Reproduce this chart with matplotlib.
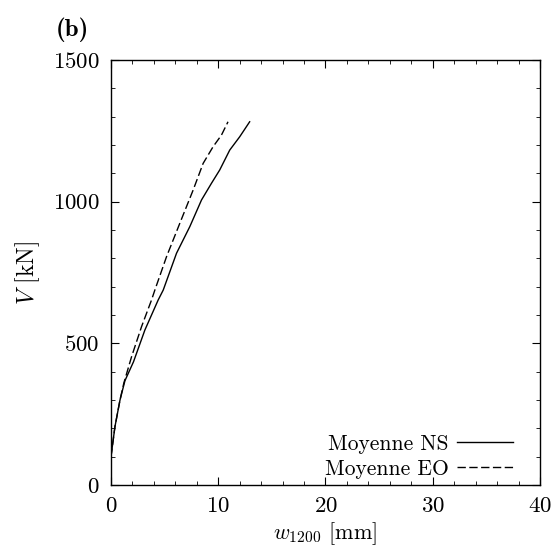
import matplotlib
matplotlib.use("Agg")
import matplotlib.pyplot as plt
from matplotlib.ticker import MultipleLocator

plt.rcParams["font.family"] = ["cmr10", "DejaVu Serif"]
plt.rcParams["mathtext.fontset"] = "cm"
plt.rcParams["axes.formatter.use_mathtext"] = True

# Moyenne NS (solid)
ns_w = [0.0, 0.37, 0.84, 1.3, 2.1, 3.16, 4.4, 4.87, 6.11, 7.35, 8.44, 9.37, 10.14, 11.07, 12.0, 12.93]
ns_v = [100, 206, 300, 368, 435, 547, 653, 688, 818, 912, 1006, 1065, 1112, 1182, 1229, 1282]

# Moyenne EO (dashed)
eo_w = [0.0, 0.37, 0.84, 1.2, 1.92, 2.85, 3.78, 4.09, 5.18, 6.42, 7.66, 8.59, 9.52, 10.3, 10.91]
eo_v = [100, 206, 300, 360, 453, 559, 653, 688, 806, 924, 1041, 1135, 1194, 1235, 1282]

fig = plt.figure(figsize=(5.53, 5.55), dpi=100)
ax = fig.add_axes([0.2007, 0.1261, 0.7758, 0.7658])

ax.plot(ns_w, ns_v, color="black", linewidth=1.0, label="Moyenne NS")
ax.plot(eo_w, eo_v, color="black", linewidth=1.0, linestyle=(0, (6, 2.5)), label="Moyenne EO")

ax.set_xlim(0, 40)
ax.set_ylim(0, 1500)
ax.xaxis.set_major_locator(MultipleLocator(10))
ax.xaxis.set_minor_locator(MultipleLocator(2))
ax.yaxis.set_major_locator(MultipleLocator(500))
ax.yaxis.set_minor_locator(MultipleLocator(100))
ax.tick_params(which="both", direction="in", top=True, right=True, labelsize=16.5, pad=8)
ax.tick_params(which="major", length=6)
ax.tick_params(which="minor", length=3)
for s in ax.spines.values():
    s.set_linewidth(1.0)

ax.set_xlabel(r"$w_{1200}$ [mm]", fontsize=16, labelpad=3)
ax.set_ylabel(r"$V$ [kN]", fontsize=17, labelpad=8)

ax.legend(loc="lower right", frameon=False, markerfirst=False, fontsize=15.5,
          handlelength=2.6, handletextpad=0.4, labelspacing=0.25,
          borderaxespad=0.0, bbox_to_anchor=(0.958, -0.005))

fig.text(0.1, 0.935, "(b)", fontsize=18, family=["cmb10", "DejaVu Serif"])

fig.savefig("out.png", dpi=100)
